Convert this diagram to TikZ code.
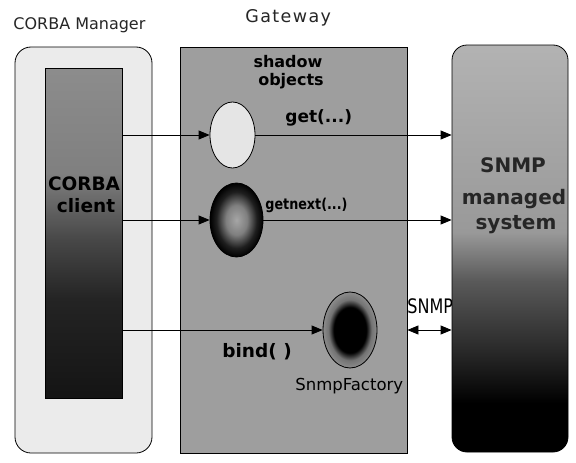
\documentclass[tikz,border=0pt]{standalone}
\usepackage{fontspec}
\setmainfont{DejaVu Sans}
\newfontfamily\gwfont[LetterSpace=8]{DejaVu Sans}
\usetikzlibrary{arrows.meta,shapes.geometric}

\pgfdeclareverticalshading{snmpsh}{100bp}{color(0bp)=(black); color(31bp)=(black); color(37bp)=(black!85); color(46bp)=(black!65); color(52bp)=(black!40); color(75bp)=(black!30); color(100bp)=(black!30)}
\pgfdeclareverticalshading{clientsh}{100bp}{color(0bp)=(black!92); color(25bp)=(black!92); color(40bp)=(black!86); color(49bp)=(black!72); color(59bp)=(black!50); color(75bp)=(black!45); color(100bp)=(black!45)}
\pgfdeclareradialshading{factsh}{\pgfpoint{0bp}{0bp}}{color(0bp)=(black); color(15bp)=(black); color(20bp)=(black!55); color(25bp)=(black!45); color(50bp)=(black!45)}
\pgfdeclareradialshading{darksh}{\pgfpoint{0bp}{0bp}}{color(0bp)=(black!35); color(10bp)=(black!50); color(19bp)=(black!88); color(25bp)=(black); color(50bp)=(black)}

\begin{document}
\begin{tikzpicture}[x=1pt,y=-1pt,line width=0.8pt,
  box/.style={draw=black,inner sep=0pt},
  oval/.style={draw=black,ellipse,inner sep=0pt},
  arr/.style={-{Triangle[length=11pt,width=9pt]}},
  darr/.style={{Triangle[length=11pt,width=9pt]}-{Triangle[length=11pt,width=9pt]}},
  lbl/.style={inner sep=0pt,anchor=base west,text=black},
  ctr/.style={inner sep=0pt,anchor=base,text=black}]
\useasboundingbox (0,0) rectangle (576,463);
\fill[white] (0,0) rectangle (576,463);

% CORBA Manager
\node[box,rounded corners=16pt,fill=black!8,minimum width=137pt,minimum height=406pt] (mgr) at (83.5,250) {};
\node[box,shade,shading=clientsh,minimum width=77pt,minimum height=330pt] (client) at (83.5,233) {};
\node[ctr,font=\bfseries\fontsize{18.5}{20}\selectfont] (cl1) at (84,190) {CORBA};
\node[ctr,font=\bfseries\fontsize{18.5}{20}\selectfont] (cl2) at (86,212) {client};

% Gateway
\node[box,fill=black!38,minimum width=227pt,minimum height=406pt] (gw) at (293.5,250) {};

% shadow objects
\node[oval,fill=black!10,minimum width=45pt,minimum height=66pt] (wh) at (232.5,135) {};
\node[oval,shade,shading=darksh,minimum width=53pt,minimum height=74pt] (dk) at (236.5,220) {};
\node[oval,shade,shading=factsh,minimum width=54pt,minimum height=76pt] (fac) at (350,330) {};

% texts
\node[lbl,font=\fontsize{16}{19}\selectfont,text=black!85] (t1) at (13,30) {CORBA Manager};
\node[lbl,font=\gwfont\fontsize{17.5}{20}\selectfont,text=black!85] (t2) at (245,23) {Gateway};
\node[ctr,font=\bfseries\fontsize{16}{19}\selectfont] (s1) at (288,67) {shadow};
\node[ctr,font=\bfseries\fontsize{16}{19}\selectfont] (s2) at (291,85) {objects};
\node[lbl,font=\bfseries\fontsize{17}{19}\selectfont] (g1) at (285,122) {get(...)};
\node[lbl,font=\bfseries\fontsize{15}{17}\selectfont] (g2) at (265,209) {\scalebox{0.85}[1]{getnext(...)}};
\node[lbl,font=\bfseries\fontsize{18.5}{20}\selectfont] (b1) at (222,357) {bind( )};
\node[lbl,font=\fontsize{16.5}{19}\selectfont] (f1) at (295,390) {SnmpFactory};
\node[lbl,font=\fontsize{20}{22}\selectfont] (sn) at (407,313) {\scalebox{0.8}[1]{SNMP}};

% SNMP managed system
\node[box,rounded corners=15pt,shade,shading=snmpsh,minimum width=116pt,minimum height=407pt] (snmp) at (510,248.5) {};
\node[ctr,font=\bfseries\fontsize{20}{22}\selectfont,text=black!85] (m1) at (513,172) {SNMP};
\node[ctr,font=\bfseries\fontsize{20}{22}\selectfont,text=black!85] (m2) at (514,204) {managed};
\node[ctr,font=\bfseries\fontsize{20}{22}\selectfont,text=black!85] (m3) at (516,229) {system};

% connectors
\draw[arr] (client.east |- wh.west) -- (wh.west);
\draw[arr] (wh.east) -- (snmp.west |- wh.east);
\draw[arr] (client.east |- dk.west) -- (dk.west);
\draw[arr] (dk.east) -- (snmp.west |- dk.east);
\draw[arr] (client.east |- fac.west) -- (fac.west);
\draw[darr] (gw.east |- fac.west) -- (snmp.west |- fac.west);
\end{tikzpicture}
\end{document}
